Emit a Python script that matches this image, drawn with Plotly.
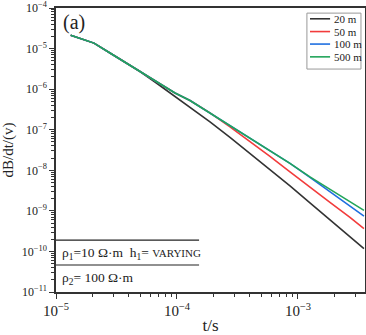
import plotly.graph_objects as go

# time (s)
t = [1.322e-5, 1.874e-5, 2.061e-5, 2.794e-5, 4.089e-5, 4.945e-5, 6.578e-5, 9.627e-5,
     1.281e-4, 1.874e-4, 2.742e-4, 4.011e-4, 5.868e-4, 8.588e-4, 1.256e-3, 1.838e-3,
     2.690e-3, 3.511e-3]

# dB/dt responses for different first-layer thickness
v20 = [2.138e-5, 1.514e-5, 1.366e-5, 7.79e-6, 3.835e-6, 2.729e-6, 1.504e-6, 6.61e-7,
       3.60e-7, 1.556e-7, 6.46e-8, 2.61e-8, 1.052e-8, 4.13e-9, 1.574e-9, 6.00e-10,
       2.29e-10, 1.166e-10]
v50 = [2.138e-5, 1.514e-5, 1.366e-5, 7.79e-6, 3.835e-6, 2.729e-6, 1.592e-6, 8.06e-7,
       5.27e-7, 2.594e-7, 1.172e-7, 5.15e-8, 2.20e-8, 9.14e-9, 3.79e-9, 1.62e-9,
       6.92e-10, 3.65e-10]
v100 = [2.138e-5, 1.514e-5, 1.366e-5, 7.79e-6, 3.835e-6, 2.729e-6, 1.592e-6, 8.06e-7,
        5.27e-7, 2.594e-7, 1.276e-7, 6.28e-8, 3.09e-8, 1.479e-8, 6.68e-9, 2.94e-9,
        1.291e-9, 7.45e-10]
v500 = [2.138e-5, 1.514e-5, 1.366e-5, 7.79e-6, 3.835e-6, 2.729e-6, 1.592e-6, 8.06e-7,
        5.27e-7, 2.594e-7, 1.276e-7, 6.28e-8, 3.09e-8, 1.479e-8, 6.88e-9, 3.385e-9,
        1.714e-9, 1.029e-9]

names = ["20 m", "50 m", "100 m", "500 m"]
series = [v20, v50, v100, v500]
colors = ["#333333", "#f23c3c", "#1f6fe0", "#22a55a"]

y_ticks = [1e-11, 1e-10, 1e-9, 1e-8, 1e-7, 1e-6, 1e-5, 1e-4]
y_labels = ["10<sup>−11</sup>", "10<sup>−10</sup>", "10<sup>−9</sup>", "10<sup>−8</sup>",
            "10<sup>−7</sup>", "10<sup>−6</sup>", "10<sup>−5</sup>", "10<sup>−4</sup>"]

FONT = "Liberation Serif"

fig = go.Figure()
for n, v, c in zip(names, series, colors):
    fig.add_trace(go.Scatter(x=t, y=v, mode="lines", name=n, showlegend=False,
                             line=dict(color=c, width=1.6)))

axis_common = dict(
    type="log", showgrid=False, zeroline=False, automargin=False,
    showline=True, linecolor="#333333", linewidth=1.5, mirror=True,
    ticks="outside", ticklen=5, tickcolor="#333333", tickwidth=1,
    exponentformat="power",
    tickfont=dict(family=FONT, size=12, color="#222"),
    minor=dict(dtick="D1", ticks="outside", ticklen=3, tickcolor="#333333"),
)

fig.update_layout(
    width=366, height=335,
    margin=dict(l=56, r=1, t=8, b=43),
    paper_bgcolor="white", plot_bgcolor="white",
    font=dict(family=FONT, color="#222"),
    xaxis=dict(range=[-5, -2.446], dtick=1,
               title=dict(text="t/s", font=dict(family=FONT, size=17), standoff=4),
               **axis_common),
    yaxis=dict(range=[-11, -3.999], tickmode="array", tickvals=y_ticks, ticktext=y_labels,
               title=dict(text="dB/dt/(v)", font=dict(family=FONT, size=15), standoff=4),
               **axis_common),
    showlegend=False,
)

# manual legend (box, line samples, labels)
fig.add_shape(type="rect", xref="x domain", yref="y domain",
              x0=0.812, x1=0.987, y0=0.785, y1=0.982,
              line=dict(color="#999", width=1), fillcolor="white", layer="above")
leg_y = [0.962, 0.917, 0.873, 0.828]
for n, c, yy in zip(names, colors, leg_y):
    fig.add_shape(type="line", xref="x domain", yref="y domain",
                  x0=0.822, x1=0.887, y0=yy, y1=yy,
                  line=dict(color=c, width=1.6), layer="above")
    fig.add_annotation(xref="x domain", yref="y domain", x=0.893, y=yy,
                       text=n, showarrow=False, xanchor="left", yanchor="middle",
                       font=dict(family=FONT, size=11, color="#222"))

# "(a)" label
fig.add_annotation(xref="x domain", yref="y domain", x=0.015, y=0.95,
                   text="(a)", showarrow=False, xanchor="left", yanchor="middle",
                   font=dict(family=FONT, size=20, color="#222"))

# parameter box lines
for yd in [0.183, 0.095]:
    fig.add_shape(type="line", xref="x domain", yref="y domain",
                  x0=0, x1=0.463, y0=yd, y1=yd,
                  line=dict(color="#222", width=1.2))

fig.add_annotation(xref="x domain", yref="y domain", x=0.014, y=0.137,
                   text="ρ<sub>1</sub>=10 Ω·m  h<sub>1</sub>= <span style='font-size:11px'>VARYING</span>",
                   showarrow=False, xanchor="left", yanchor="middle",
                   font=dict(family=FONT, size=13.5, color="#222"))
fig.add_annotation(xref="x domain", yref="y domain", x=0.014, y=0.049,
                   text="ρ<sub>2</sub>= 100 Ω·m",
                   showarrow=False, xanchor="left", yanchor="middle",
                   font=dict(family=FONT, size=13.5, color="#222"))

fig.write_html("out.html", config={"displayModeBar": False},
               post_script="document.body.style.margin='0';document.body.style.padding='0';")
